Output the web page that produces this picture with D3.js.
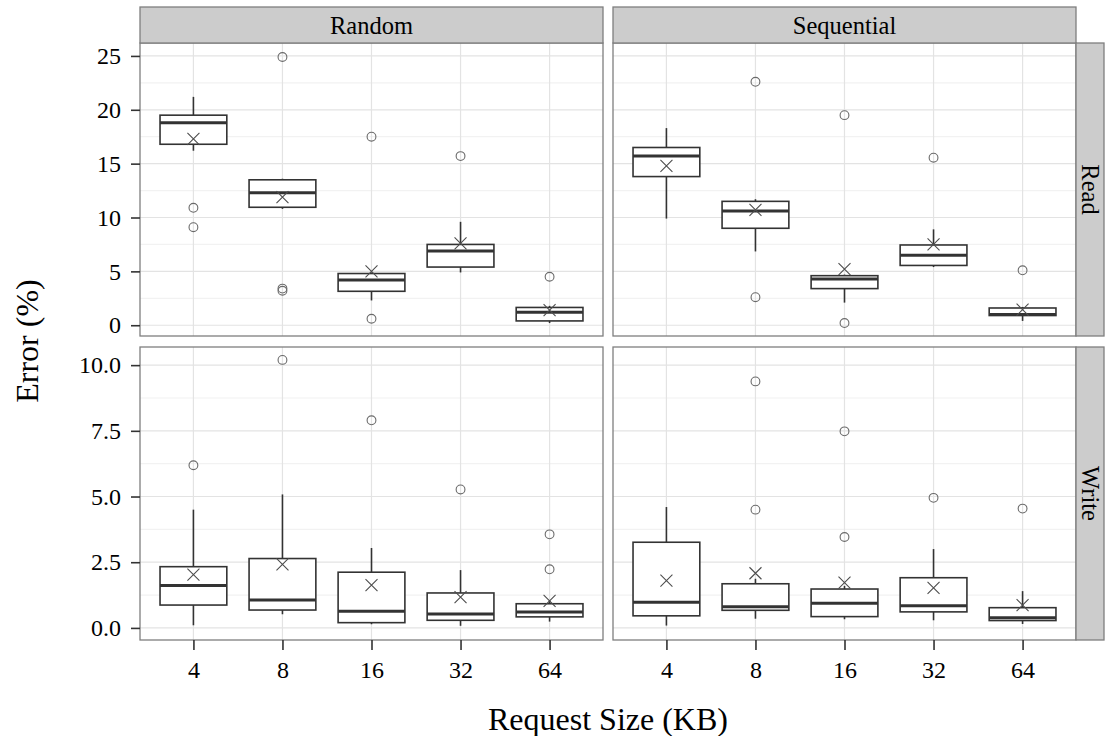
<!DOCTYPE html>
<meta charset="utf-8">
<head>
  <style>
    body { margin: 0; background: #fff; }
    svg text { font-family: "Liberation Serif", "Times New Roman", serif; fill: #000; }
  </style>
</head>
<body>
<div id="chart"></div>
<script src="https://d3js.org/d3.v7.min.js"></script>
<script>

var sizes = ["4", "8", "16", "32", "64"];
var patterns = ["Random", "Sequential"];
var ops = ["Read", "Write"];

// per request size: [lower whisker, q1, median, q3, upper whisker]
var randomRead = [[16.2, 16.8, 18.8, 19.5, 21.2], [10.8, 10.95, 12.3, 13.5, 13.6], [2.3, 3.15, 4.2, 4.8, 4.9], [4.9, 5.4, 6.9, 7.5, 9.6], [0.2, 0.4, 1.2, 1.65, 1.8]];
var randomReadMean = [17.3, 11.9, 5.0, 7.6, 1.4];
var randomReadOut = [[10.9, 9.1], [24.9, 3.4, 3.2], [17.5, 0.6], [15.7], [4.5]];

var seqRead = [[9.9, 13.8, 15.7, 16.5, 18.3], [6.85, 9.0, 10.6, 11.5, 11.7], [2.1, 3.4, 4.3, 4.6, 4.7], [5.4, 5.55, 6.5, 7.45, 8.9], [0.4, 0.9, 1.0, 1.6, 1.7]];
var seqReadMean = [14.8, 10.7, 5.2, 7.5, 1.45];
var seqReadOut = [[], [22.6, 2.6], [19.5, 0.2], [15.55], [5.1]];

var randomWrite = [[0.1, 0.87, 1.61, 2.33, 4.5], [0.52, 0.68, 1.06, 2.64, 5.08], [0.14, 0.2, 0.63, 2.12, 3.04], [0.08, 0.29, 0.53, 1.33, 2.2], [0.24, 0.42, 0.61, 0.92, 1.05]];
var randomWriteMean = [2.03, 2.42, 1.63, 1.17, 1.03];
var randomWriteOut = [[6.19], [10.2], [7.9], [5.27], [3.56, 2.23]];

var seqWrite = [[0.09, 0.46, 0.98, 3.26, 4.6], [0.35, 0.67, 0.81, 1.68, 1.87], [0.33, 0.43, 0.94, 1.48, 1.6], [0.29, 0.61, 0.84, 1.91, 3.0], [0.15, 0.28, 0.39, 0.77, 1.4]];
var seqWriteMean = [1.8, 2.08, 1.72, 1.52, 0.87];
var seqWriteOut = [[], [9.38, 4.5], [7.48, 3.46], [4.95], [4.54]];

var readTicks = [0, 5, 10, 15, 20, 25];
var writeTicks = [0, 2.5, 5, 7.5, 10];

var width = 1106, height = 736;
var colX = [[140, 603], [613, 1076]];
var rowY = [[43, 336], [347, 640]];

var svg = d3.select("#chart").append("svg")
  .attr("width", width)
  .attr("height", height);

var panels = [
  { col: 0, row: 0, box: randomRead, mean: randomReadMean, out: randomReadOut },
  { col: 1, row: 0, box: seqRead, mean: seqReadMean, out: seqReadOut },
  { col: 0, row: 1, box: randomWrite, mean: randomWriteMean, out: randomWriteOut },
  { col: 1, row: 1, box: seqWrite, mean: seqWriteMean, out: seqWriteOut }
];

var y = [
  d3.scaleLinear().domain([-1.0, 26.2]).range([rowY[0][1], rowY[0][0]]),
  d3.scaleLinear().domain([-0.46, 10.69]).range([rowY[1][1], rowY[1][0]])
];
var ticks = [readTicks, writeTicks];
var fmt = [d3.format("d"), d3.format(".1f")];

panels.forEach(function(p) {
  var x = d3.scalePoint().domain(sizes).range(colX[p.col]).padding(0.6);
  var yy = y[p.row];
  var bw = x.step() * 0.75;
  var g = svg.append("g");
  var x0 = colX[p.col][0], x1 = colX[p.col][1];
  var y0 = rowY[p.row][0], y1 = rowY[p.row][1];

  g.append("rect").attr("x", x0).attr("y", y0).attr("width", x1 - x0).attr("height", y1 - y0)
    .attr("fill", "#fff");

  // minor grid
  var t = ticks[p.row];
  var minor = [];
  for (var i = 0; i < t.length - 1; i++) minor.push((t[i] + t[i + 1]) / 2);
  minor.push(t[t.length - 1] + (t[1] - t[0]) / 2);
  g.selectAll(".minor").data(minor.filter(function(v) { return yy(v) > y0; })).enter().append("line")
    .attr("x1", x0).attr("x2", x1)
    .attr("y1", function(d) { return yy(d); }).attr("y2", function(d) { return yy(d); })
    .attr("stroke", "#f2f2f2").attr("stroke-width", 1.2);
  g.selectAll(".major").data(t).enter().append("line")
    .attr("x1", x0).attr("x2", x1)
    .attr("y1", function(d) { return yy(d); }).attr("y2", function(d) { return yy(d); })
    .attr("stroke", "#e3e3e3").attr("stroke-width", 1.2);
  g.selectAll(".vmajor").data(sizes).enter().append("line")
    .attr("x1", function(d) { return x(d); }).attr("x2", function(d) { return x(d); })
    .attr("y1", y0).attr("y2", y1)
    .attr("stroke", "#e3e3e3").attr("stroke-width", 1.2);

  sizes.forEach(function(s, i) {
    var b = p.box[i], cx = x(s);
    g.append("line").attr("x1", cx).attr("x2", cx).attr("y1", yy(b[0])).attr("y2", yy(b[1]))
      .attr("stroke", "#333").attr("stroke-width", 1.6);
    g.append("line").attr("x1", cx).attr("x2", cx).attr("y1", yy(b[3])).attr("y2", yy(b[4]))
      .attr("stroke", "#333").attr("stroke-width", 1.6);
    g.append("rect").attr("x", cx - bw / 2).attr("width", bw)
      .attr("y", yy(b[3])).attr("height", yy(b[1]) - yy(b[3]))
      .attr("fill", "#fff").attr("stroke", "#333").attr("stroke-width", 1.6);
    g.append("line").attr("x1", cx - bw / 2).attr("x2", cx + bw / 2).attr("y1", yy(b[2])).attr("y2", yy(b[2]))
      .attr("stroke", "#333").attr("stroke-width", 3);

    p.out[i].forEach(function(v) {
      g.append("circle").attr("cx", cx).attr("cy", yy(v)).attr("r", 4.4)
        .attr("fill", "none").attr("stroke", "#6a6a6a").attr("stroke-width", 1.1);
    });

    var my = yy(p.mean[i]), h = 6;
    g.append("path")
      .attr("d", "M" + (cx - h) + "," + (my - h) + "L" + (cx + h) + "," + (my + h) +
                 "M" + (cx - h) + "," + (my + h) + "L" + (cx + h) + "," + (my - h))
      .attr("stroke", "#4d4d4d").attr("stroke-width", 1.1);
  });

  g.append("rect").attr("x", x0).attr("y", y0).attr("width", x1 - x0).attr("height", y1 - y0)
    .attr("fill", "none").attr("stroke", "#7f7f7f").attr("stroke-width", 1.3);

  // y axis on left column
  if (p.col == 0) {
    var ya = svg.append("g").attr("transform", "translate(" + x0 + ",0)")
      .call(d3.axisLeft(yy).tickValues(t).tickFormat(fmt[p.row]).tickSize(9).tickPadding(10));
    ya.select(".domain").remove();
    ya.selectAll("line").attr("stroke", "#333").attr("stroke-width", 1.6);
    ya.selectAll("text").style("font-size", "24px").attr("fill", "#000");
  }
  // x axis on bottom row
  if (p.row == 1) {
    var xa = svg.append("g").attr("transform", "translate(0," + y1 + ")")
      .call(d3.axisBottom(x).tickSize(10).tickPadding(11));
    xa.select(".domain").remove();
    xa.selectAll("line").attr("stroke", "#333").attr("stroke-width", 1.6);
    xa.selectAll("text").style("font-size", "24px").attr("fill", "#000");
  }
});

// strips
patterns.forEach(function(name, i) {
  svg.append("rect").attr("x", colX[i][0]).attr("y", 7).attr("width", colX[i][1] - colX[i][0]).attr("height", 36)
    .attr("fill", "#cccccc").attr("stroke", "#7f7f7f").attr("stroke-width", 1.3);
  svg.append("text").attr("x", (colX[i][0] + colX[i][1]) / 2).attr("y", 25)
    .attr("text-anchor", "middle").attr("dominant-baseline", "central")
    .style("font-size", "24.5px").text(name);
});
ops.forEach(function(name, i) {
  svg.append("rect").attr("x", 1076).attr("y", rowY[i][0]).attr("width", 28).attr("height", rowY[i][1] - rowY[i][0])
    .attr("fill", "#cccccc").attr("stroke", "#7f7f7f").attr("stroke-width", 1.3);
  var cy = (rowY[i][0] + rowY[i][1]) / 2;
  svg.append("text").attr("transform", "translate(1090," + cy + ") rotate(90)")
    .attr("text-anchor", "middle").attr("dominant-baseline", "central")
    .style("font-size", "24.5px").text(name);
});

svg.append("text").attr("x", 608).attr("y", 730).attr("text-anchor", "middle")
  .style("font-size", "32px").text("Request Size (KB)");
svg.append("text").attr("transform", "translate(38,341) rotate(-90)").attr("text-anchor", "middle")
  .style("font-size", "32px").text("Error (%)");

</script>
</body>
